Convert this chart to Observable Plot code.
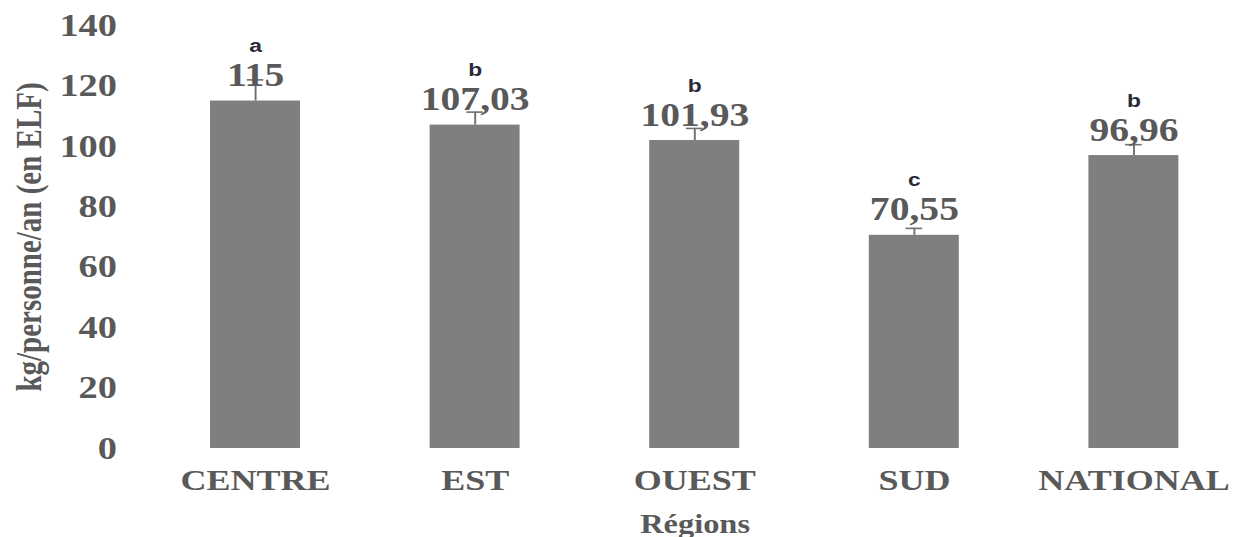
<!DOCTYPE html>
<html>
<head>
<meta charset="utf-8">
<script src="https://cdn.jsdelivr.net/npm/d3@7"></script>
<script src="https://cdn.jsdelivr.net/npm/@observablehq/plot@0.6"></script>
<style>
  html, body { margin: 0; padding: 0; background: #fff; }
  #chart svg { display: block; }
</style>
</head>
<body>
<div id="chart"></div>
<script>
// ---- data ----
const regions = ["CENTRE", "EST", "OUEST", "SUD", "NATIONAL"];
const values = [115, 107.03, 101.93, 70.55, 96.96];
const errors = [7, 4.3, 4, 2.3, 3.6];
const letters = ["a", "b", "b", "c", "b"];
const valueLabels = ["115", "107,03", "101,93", "70,55", "96,96"];
const yTicks = [0, 20, 40, 60, 80, 100, 120, 140];
const xTitle = "Régions";
const yTitle = "kg/personne/an (en ELF)";

const rows = regions.map((r, i) => ({
  region: r, value: values[i], err: errors[i], letter: letters[i], label: valueLabels[i]
}));

// the reference picture is horizontally stretched; draw in a narrower frame and stretch it
const S = 1.2;
const FINAL_W = 1239, H = 537;
const W = FINAL_W / S;

const serif = "'Liberation Serif', 'Times New Roman', serif";
const sans = "'Liberation Sans', Arial, sans-serif";
const grey = "#595959";

const chart = Plot.plot({
  width: W,
  height: H,
  marginLeft: 125,
  marginRight: 0,
  marginTop: 25,
  marginBottom: 89,
  style: { background: "#fff", overflow: "visible" },
  x: { domain: regions, paddingInner: 0.59, paddingOuter: 0.2675 },
  y: { domain: [0, 140] },
  marks: [
    Plot.axisY({
      ticks: yTicks, tickSize: 0, tickPadding: 28,
      fontSize: 32, fontWeight: "bold", fontFamily: serif, fill: grey,
      label: yTitle, labelAnchor: "center", labelArrow: "none", labelOffset: 112
    }),
    Plot.axisX({
      tickSize: 0, tickPadding: 20,
      fontSize: 30, fontWeight: "bold", fontFamily: serif, fill: grey,
      label: xTitle, labelAnchor: "center", labelArrow: "none", labelOffset: 84
    }),
    Plot.barY(rows, { x: "region", y: "value", fill: "#7f7f7f" }),
    Plot.ruleX(rows, { x: "region", y1: "value", y2: d => d.value + d.err, stroke: "#6f6f6f", strokeWidth: 1.6 }),
    Plot.tickY(rows, { x: "region", y: d => d.value + d.err, stroke: "#6f6f6f", strokeWidth: 1.6, insetLeft: 30.6, insetRight: 30.6 }),
    Plot.text(rows, {
      x: "region", y: "value", text: "label", dy: -15, lineAnchor: "bottom",
      fontSize: 33, fontWeight: "bold", fontFamily: serif, fill: grey
    }),
    Plot.text(rows, {
      x: "region", y: "value", text: "letter", dy: -49, lineAnchor: "bottom",
      fontSize: 19, fontWeight: "bold", fontFamily: sans, fill: "#2a2a3a"
    })
  ]
});

// style axis titles
chart.querySelectorAll("[aria-label='y-axis label'] text, [aria-label='x-axis label'] text").forEach(t => {
  t.setAttribute("font-family", serif);
  t.setAttribute("font-weight", "bold");
  t.setAttribute("fill", grey);
});
const yl = chart.querySelector("[aria-label='y-axis label']");
if (yl) { yl.setAttribute("font-size", 29); yl.querySelectorAll("text").forEach(t => t.setAttribute("font-size", 29)); }
const xl = chart.querySelector("[aria-label='x-axis label']");
if (xl) { xl.setAttribute("font-size", 27); xl.querySelectorAll("text").forEach(t => t.setAttribute("font-size", 27)); }

// stretch horizontally to the final width
chart.setAttribute("viewBox", `0 0 ${W} ${H}`);
chart.setAttribute("width", FINAL_W);
chart.setAttribute("height", H);
chart.setAttribute("preserveAspectRatio", "none");
chart.style.width = FINAL_W + "px";
chart.style.height = H + "px";
chart.style.maxWidth = "none";

document.getElementById("chart").appendChild(chart);
</script>
</body>
</html>
